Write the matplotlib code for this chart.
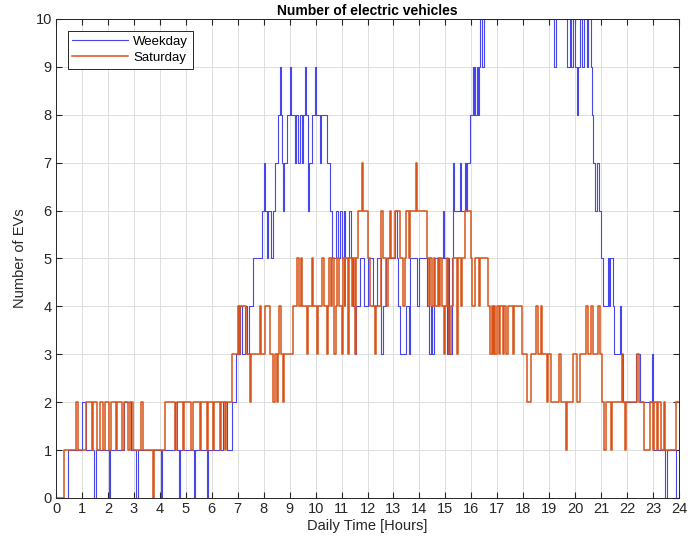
import matplotlib.pyplot as plt

# Weekday: change points (hour) and EV count held until next change
wd_t = [0.0, 0.46, 1.0, 1.15, 1.48, 1.53, 2.03, 2.07, 2.62, 2.88, 3.1, 3.14, 4.03, 4.07,
        4.58, 4.68, 4.72, 4.76, 5.31, 5.35, 5.82, 5.86, 6.45, 6.6, 6.78, 6.92, 7.1, 7.18,
        7.28, 7.36, 7.42, 7.6, 7.95, 8.0, 8.05, 8.12, 8.18, 8.3, 8.36, 8.45, 8.55, 8.62,
        8.67, 8.72, 8.75, 8.8, 8.9, 9.0, 9.05, 9.2, 9.25, 9.33, 9.38, 9.47, 9.5, 9.58,
        9.63, 9.7, 9.75, 9.85, 9.98, 10.03, 10.15, 10.2, 10.43, 10.55, 10.62, 10.8, 10.85,
        10.95, 11.0, 11.1, 11.15, 11.3, 11.35, 11.45, 11.5, 11.55, 11.7, 11.85, 12.0, 12.2,
        12.35, 12.52, 12.58, 12.7, 13.05, 13.12, 13.18, 13.25, 13.5, 13.6, 13.65, 13.9,
        14.0, 14.3, 14.38, 14.45, 14.5, 14.55, 14.9, 14.95, 15.05, 15.1, 15.15, 15.25,
        15.3, 15.35, 15.55, 15.6, 15.75, 15.8, 15.85, 15.95, 16.05, 16.08, 16.12, 16.15,
        16.2, 16.25, 16.3, 16.35, 16.42, 16.48, 19.2, 19.25, 19.7, 19.78, 19.82, 19.9,
        20.0, 20.08, 20.12, 20.18, 20.28, 20.35, 20.45, 20.5, 20.6, 20.65, 20.7, 20.78,
        20.82, 20.9, 21.0, 21.08, 21.25, 21.32, 21.35, 21.45, 21.5, 21.72, 21.75, 21.85,
        22.35, 22.5, 22.95, 23.0, 23.45, 23.52, 23.9, 24.0]
wd_n = [0, 1, 2, 1, 0, 1, 0, 1, 2, 1, 0, 1, 0, 1,
        2, 1, 0, 1, 0, 1, 0, 1, 2, 1, 2, 3, 4, 3,
        4, 3, 4, 5, 6, 7, 6, 5, 6, 5, 6, 7, 8, 9,
        8, 7, 6, 7, 8, 9, 8, 7, 8, 7, 8, 7, 8, 9,
        8, 6, 7, 8, 9, 8, 7, 8, 7, 6, 5, 6, 5,
        6, 5, 6, 5, 6, 5, 4, 3, 4, 5, 4, 5, 4,
        5, 3, 4, 5, 6, 5, 4, 3, 4, 3, 5, 4,
        5, 4, 3, 4, 3, 5, 6, 5, 3, 5, 3, 5,
        7, 6, 7, 6, 7, 6, 7, 8, 9, 8, 9, 8,
        9, 8, 9, 10, 9, 10, 9, 10, 9, 10, 9, 10,
        9, 8, 9, 10, 9, 10, 9, 10, 9, 8, 7, 6,
        7, 6, 5, 4, 5, 4, 5, 4, 3, 4, 3, 2,
        3, 2, 3, 1, 0, 1, 0, 0]

# Saturday
sa_t = [0.0, 0.32, 0.78, 0.84, 1.15, 1.38, 1.43, 1.57, 1.7, 1.8, 1.88, 2.05, 2.1, 2.3,
        2.36, 2.55, 2.6, 2.78, 2.85, 2.97, 3.28, 3.35, 3.72, 3.78, 4.2, 4.6, 4.66, 4.88,
        4.93, 5.2, 5.26, 5.55, 5.6, 5.8, 5.85, 6.05, 6.1, 6.3, 6.35, 6.5, 6.55, 6.78,
        7.0, 7.05, 7.1, 7.3, 7.47, 7.52, 7.85, 7.9, 8.05, 8.25, 8.35, 8.42, 8.5, 8.55,
        8.6, 8.65, 8.75, 8.8, 9.12, 9.28, 9.35, 9.42, 9.47, 9.65, 9.7, 9.85, 9.9, 10.05,
        10.1, 10.25, 10.32, 10.42, 10.47, 10.52, 10.6, 10.65, 10.72, 10.77, 10.82, 10.9,
        11.0, 11.05, 11.12, 11.15, 11.25, 11.3, 11.4, 11.45, 11.5, 11.55, 11.62, 11.78,
        11.82, 12.0, 12.1, 12.28, 12.33, 12.5, 12.58, 12.7, 12.8, 12.85, 12.9, 13.05,
        13.25, 13.35, 13.45, 13.5, 13.6, 13.65, 13.88, 13.92, 14.3, 14.35, 14.42, 14.48,
        14.55, 14.6, 14.7, 14.75, 14.8, 14.85, 14.95, 15.0, 15.05, 15.1, 15.15, 15.2,
        15.3, 15.45, 15.5, 15.6, 15.65, 15.75, 15.97, 16.03, 16.15, 16.3, 16.35, 16.65,
        16.7, 16.78, 16.82, 16.88, 16.92, 16.98, 17.05, 17.1, 17.2, 17.25, 17.35, 17.4,
        17.6, 17.65, 17.95, 18.15, 18.3, 18.5, 18.55, 18.68, 18.72, 18.9, 18.95, 19.05,
        19.38, 19.45, 19.65, 19.7, 19.9, 20.05, 20.2, 20.42, 20.5, 20.6, 20.67, 20.88,
        20.95, 21.05, 21.12, 21.17, 21.38, 21.43, 21.8, 21.85, 21.9, 21.95, 22.38, 22.45,
        22.65, 22.9, 23.0, 23.05, 23.15, 23.2, 23.3, 23.42, 23.47, 23.88, 24.0]
sa_n = [0, 1, 2, 1, 2, 1, 2, 1, 2, 1, 2, 1, 2, 1,
        2, 1, 2, 1, 2, 1, 2, 1, 0, 1, 2, 1, 2, 1,
        2, 1, 2, 1, 2, 1, 2, 1, 2, 1, 2, 1, 2, 3,
        4, 3, 4, 3, 2, 3, 4, 3, 4, 3, 2, 3, 2, 3,
        4, 3, 2, 3, 4, 5, 4, 5, 4, 3, 4, 5, 4, 3,
        4, 5, 4, 3, 4, 5, 4, 5, 3, 4, 5, 4,
        3, 5, 4, 5, 3, 5, 4, 5, 3, 5, 6, 7,
        6, 5, 4, 3, 4, 6, 5, 4, 5, 6, 5, 6,
        5, 4, 5, 6, 5, 6, 7, 6, 5, 4, 5, 4,
        5, 4, 5, 4, 5, 4, 3, 4, 5, 4, 3, 4,
        5, 3, 5, 4, 5, 6, 5, 4, 5, 4, 5, 4,
        3, 4, 3, 4, 3, 4, 3, 4, 3, 4, 3, 4,
        3, 4, 3, 2, 3, 4, 3, 4, 3, 2, 3, 2,
        3, 2, 1, 2, 3, 2, 3, 4, 3, 4, 3, 4,
        3, 2, 1, 2, 1, 2, 3, 2, 1, 2, 3, 2,
        1, 2, 1, 2, 1, 2, 1, 2, 1, 2, 2]

x_ticks = list(range(0, 25))
y_ticks = list(range(0, 11))

plt.rcParams['font.family'] = ['Liberation Sans', 'DejaVu Sans']

fig = plt.figure(figsize=(6.88, 5.49), dpi=100)
ax = fig.add_axes([0.0814, 0.0929, 0.9056, 0.8725])

ax.step(wd_t, wd_n, where='post', color='#4646ec', lw=0.8, label='Weekday')
ax.step(sa_t, sa_n, where='post', color='#d95319', lw=1.1, label='Saturday')

ax.set_xlim(0, 24)
ax.set_ylim(0, 10)
ax.set_xticks(x_ticks)
ax.set_yticks(y_ticks)
ax.grid(True, color='#dedede', lw=0.7)
ax.set_axisbelow(True)
ax.tick_params(direction='in', top=True, right=True, labelsize=10.5, length=4,
               color='#262626', labelcolor='#262626', pad=3)
for s in ax.spines.values():
    s.set_color('#262626')
    s.set_linewidth(0.7)

ax.set_title('Number of electric vehicles', fontsize=10, fontweight='bold', pad=3)
ax.set_xlabel('Daily Time [Hours]', fontsize=10.5, color='#262626', labelpad=2)
ax.set_ylabel('Number of EVs', fontsize=10.5, color='#262626', labelpad=6)

leg = ax.legend(loc='upper left', fontsize=9.5, handlelength=4.2, handletextpad=0.4,
                fancybox=False, edgecolor='#262626', framealpha=1,
                borderaxespad=0.9, borderpad=0.35, labelspacing=0.3)
leg.get_frame().set_linewidth(0.7)

fig.savefig('out.png', dpi=100)
